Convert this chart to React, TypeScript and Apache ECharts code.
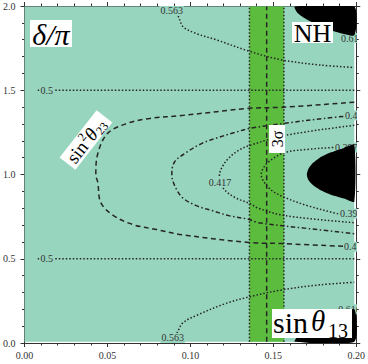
import React, { useEffect, useRef } from "react";
import * as echarts from "echarts";

// ---- data ----
const X_MIN = 0;
const X_MAX = 0.2;
const Y_MIN = 0;
const Y_MAX = 2;

const FILL_X_END = 0.1988;
const FILL_Y_START = 0.008;
const FILL_Y_END = 1.997;

const BAND_LEFT = 0.1356;
const BAND_RIGHT = 0.1564;
const BAND_CENTER = 0.146;

const C050_UPPER = [[0.008, 1.5], [0.1988, 1.5]];
const C050_LOWER = [[0.008, 0.5], [0.1988, 0.5]];

const C0563_UPPER = [
  [0.0905, 2.0], [0.0935, 1.92], [0.0958, 1.875], [0.104, 1.835], [0.1154, 1.8],
  [0.136, 1.73], [0.155, 1.68], [0.178, 1.65], [0.1988, 1.635],
];
const C0563_LOWER = [
  [0.0895, 0.0], [0.0925, 0.07], [0.0955, 0.12], [0.104, 0.165], [0.1215, 0.235],
  [0.136, 0.275], [0.155, 0.315], [0.178, 0.345], [0.1988, 0.36],
];

const C047 = [
  [0.1988, 1.429], [0.1552, 1.399], [0.1356, 1.393], [0.0959, 1.351], [0.0757, 1.333],
  [0.062, 1.304], [0.0501, 1.244], [0.0442, 1.125], [0.043, 1.0], [0.0442, 0.952],
  [0.046, 0.833], [0.0537, 0.756], [0.0656, 0.702], [0.0798, 0.673], [0.0947, 0.643],
  [0.135, 0.597], [0.1552, 0.59], [0.1988, 0.571],
];

const C043 = [
  [0.1988, 1.351], [0.1807, 1.333], [0.157, 1.304], [0.136, 1.274], [0.127, 1.25],
  [0.117, 1.22], [0.107, 1.185], [0.0976, 1.131], [0.0905, 1.075], [0.0888, 1.0],
  [0.0905, 0.935], [0.0952, 0.863], [0.1036, 0.815], [0.113, 0.786], [0.123, 0.756],
  [0.135, 0.734], [0.141, 0.714], [0.171, 0.679], [0.1988, 0.649],
];

const C0417 = [
  [0.1988, 1.292], [0.157, 1.232], [0.136, 1.173], [0.129, 1.143], [0.1234, 1.1],
  [0.119, 1.042], [0.1175, 0.99], [0.12, 0.917], [0.127, 0.863], [0.136, 0.827],
  [0.141, 0.8], [0.157, 0.756], [0.1988, 0.714],
];

const C0397 = [
  [0.1988, 1.168], [0.1866, 1.161], [0.1706, 1.149], [0.157, 1.131], [0.1499, 1.095],
  [0.1451, 1.054], [0.1427, 1.0], [0.1451, 0.946], [0.1499, 0.899], [0.157, 0.863],
  [0.1706, 0.815], [0.1884, 0.768], [0.1988, 0.745],
];

const BAND_EDGE_LEFT = [[BAND_LEFT, FILL_Y_START], [BAND_LEFT, FILL_Y_END]];
const BAND_EDGE_RIGHT = [[BAND_RIGHT, FILL_Y_START], [BAND_RIGHT, FILL_Y_END]];
const BAND_MID = [[BAND_CENTER, FILL_Y_START], [BAND_CENTER, FILL_Y_END]];

const BLOB_TOP = [
  [0.1629, FILL_Y_END], [0.1647, 1.958], [0.1706, 1.917], [0.1843, 1.857],
  [FILL_X_END, 1.827], [FILL_X_END, FILL_Y_END],
];
const BLOB_MID = [
  [FILL_X_END, 1.175], [0.1926, 1.158], [0.1843, 1.13], [0.178, 1.1], [0.1735, 1.065],
  [0.171, 1.03], [0.1702, 1.0], [0.171, 0.97], [0.1735, 0.94], [0.178, 0.91],
  [0.1843, 0.882], [0.1926, 0.858], [FILL_X_END, 0.839],
];
const BLOB_BOTTOM = [
  [0.1629, FILL_Y_START], [0.1647, 0.04], [0.1706, 0.083], [0.1843, 0.143],
  [FILL_X_END, 0.2], [FILL_X_END, FILL_Y_START],
];

const LABEL_TEXTS = ["0.5", "0.5", "0.563", "0.563", "0.417", "0.616", "0.43", "0.397", "0.397", "0.47", "0.616"];
const LABEL_POS = [
  [0.0134, 1.5], [0.0134, 0.5], [0.0887, 1.975], [0.0893, 0.03], [0.1178, 0.952],
  [0.1902, 1.81], [0.1926, 1.351], [0.1866, 1.16], [0.1896, 0.768], [0.192, 0.571], [0.1885, 0.2],
];
const LABEL_ALIGN = ["center", "center", "center", "center", "center", "left", "left", "left", "left", "left", "left"];

const TEAL = "#98d5bf";
const GREEN = "#5bbc3e";
const INK = "#262626";
const SERIF_NAME = "Liberation Serif";
const SERIF = "Liberation Serif, DejaVu Serif, serif";

const DOT = [1.5, 2.0];
const DASH = [5, 3.5];
const DASHDOT = [4.5, 2.5, 1.5, 2.5];

function lineSeries(data: number[][], dash: number[], smooth = 0.35) {
  return {
    type: "line",
    data,
    symbol: "none",
    smooth,
    silent: true,
    z: 3,
    lineStyle: { color: INK, width: 1.5, type: dash, cap: "butt" },
  };
}

const REGIONS = [
  [[X_MIN, FILL_Y_START], [FILL_X_END, FILL_Y_START], [FILL_X_END, FILL_Y_END], [X_MIN, FILL_Y_END]],
  [[BAND_LEFT, FILL_Y_START], [BAND_RIGHT, FILL_Y_START], [BAND_RIGHT, FILL_Y_END], [BAND_LEFT, FILL_Y_END]],
];
const REGION_COLORS = [TEAL, GREEN];
const BLOBS = [BLOB_TOP, BLOB_MID, BLOB_BOTTOM];

function txt(text: string, x: number, y: number, font: string, align = "left") {
  return {
    type: "text", z: 101, x, y,
    style: { text, font, fill: "#000", textAlign: align, textVerticalAlign: "middle", align, verticalAlign: "middle" },
  };
}

export default function App() {
  const ref = useRef<HTMLDivElement>(null);
  useEffect(() => {
    document.body.style.margin = "0";
    const chart = echarts.init(ref.current!, null, { renderer: "svg" });
    const axisCommon = {
      type: "value",
      axisLine: { show: true, onZero: false, lineStyle: { color: "#333", width: 1 } },
      axisTick: { show: true, length: 4, lineStyle: { color: "#333" } },
      minorTick: { show: true, splitNumber: 5, length: 2.5, lineStyle: { color: "#333" } },
      splitLine: { show: false },
    };
    chart.setOption({
      animation: false,
      grid: { left: 22, right: 8, top: 6, bottom: 21 },
      xAxis: [
        {
          ...axisCommon, min: X_MIN, max: X_MAX, interval: 0.05, position: "bottom",
          axisLabel: { formatter: (v: number) => v.toFixed(2), color: "#333", fontFamily: SERIF_NAME, fontSize: 10, margin: 7 },
        },
        { ...axisCommon, min: X_MIN, max: X_MAX, interval: 0.05, position: "top", axisLabel: { show: false } },
      ],
      yAxis: [
        {
          ...axisCommon, min: Y_MIN, max: Y_MAX, interval: 0.5, position: "left",
          axisLabel: { formatter: (v: number) => v.toFixed(1), color: "#333", fontFamily: SERIF_NAME, fontSize: 10, margin: 9 },
        },
        { ...axisCommon, min: Y_MIN, max: Y_MAX, interval: 0.5, position: "right", axisLabel: { show: false } },
      ],
      series: [
        {
          type: "custom",
          coordinateSystem: "cartesian2d",
          silent: true,
          z: 1,
          clip: true,
          data: REGIONS.map((r) => r[0]),
          renderItem: (params: any, api: any) => ({
            type: "polygon",
            shape: { points: REGIONS[params.dataIndex].map((p) => api.coord(p)) },
            style: { fill: REGION_COLORS[params.dataIndex] },
          }),
        },
        lineSeries(BAND_EDGE_LEFT, DOT, 0),
        lineSeries(BAND_EDGE_RIGHT, DOT, 0),
        lineSeries(BAND_MID, DASH, 0),
        lineSeries(C050_UPPER, DOT, 0),
        lineSeries(C050_LOWER, DOT, 0),
        lineSeries(C0563_UPPER, DOT),
        lineSeries(C0563_LOWER, DOT),
        lineSeries(C047, DASH),
        lineSeries(C043, DASHDOT),
        lineSeries(C0417, DOT),
        lineSeries(C0397, DOT),
        {
          type: "custom",
          coordinateSystem: "cartesian2d",
          silent: true,
          z: 4,
          clip: true,
          data: LABEL_POS,
          renderItem: (params: any, api: any) => {
            const i = params.dataIndex;
            const pt = api.coord([api.value(0), api.value(1)]);
            return {
              type: "text",
              x: pt[0],
              y: pt[1],
              style: {
                text: LABEL_TEXTS[i],
                fill: "#333",
                font: `10px ${SERIF}`,
                align: LABEL_ALIGN[i],
                textAlign: LABEL_ALIGN[i],
                verticalAlign: "middle",
                textVerticalAlign: "middle",
                backgroundColor: TEAL,
                padding: [0, 1],
              },
            };
          },
        },
        {
          type: "custom",
          coordinateSystem: "cartesian2d",
          silent: true,
          z: 5,
          clip: true,
          data: BLOBS.map((b) => b[0]),
          renderItem: (params: any, api: any) => ({
            type: "polygon",
            shape: { points: BLOBS[params.dataIndex].map((p) => api.coord(p)), smooth: 0.2 },
            style: { fill: "#000" },
          }),
        },
      ],
      graphic: [
        { type: "rect", z: 100, shape: { x: 30, y: 20, width: 42, height: 27 }, style: { fill: "#fff" } },
        txt("δ/π", 51, 34, `italic 30px ${SERIF}`, "center"),
        { type: "rect", z: 100, shape: { x: 292, y: 22, width: 41, height: 21 }, style: { fill: "#fff" } },
        txt("NH", 312.5, 33, `26px ${SERIF}`, "center"),
        {
          type: "group", x: 277, y: 139, rotation: Math.PI / 2, z: 100,
          children: [
            { type: "rect", z: 100, shape: { x: -14, y: -8, width: 28, height: 16 }, style: { fill: "#fff" } },
            txt("3σ", 0, 0.5, `16px ${SERIF}`, "center"),
          ],
        },
        {
          type: "group", x: 86, y: 140, rotation: (52 * Math.PI) / 180, z: 100,
          children: [
            { type: "rect", z: 100, shape: { x: -30, y: -10, width: 60, height: 20 }, style: { fill: "#fff" } },
            txt("sin", -26, 0.5, `19px ${SERIF}`),
            txt("2", -3, -5, `12px ${SERIF}`),
            txt("θ", 3, 0.5, `italic 19px ${SERIF}`),
            txt("23", 13, 5.5, `12px ${SERIF}`),
          ],
        },
        { type: "rect", z: 100, shape: { x: 272, y: 309, width: 80, height: 29 }, style: { fill: "#fff" } },
        txt("sin", 273, 322, `30px ${SERIF}`),
        txt("θ", 311, 321, `italic 29px ${SERIF}`),
        txt("13", 328, 331, `20px ${SERIF}`),
      ],
    });
    return () => chart.dispose();
  }, []);
  return <div ref={ref} style={{ width: 368, height: 364 }} />;
}
